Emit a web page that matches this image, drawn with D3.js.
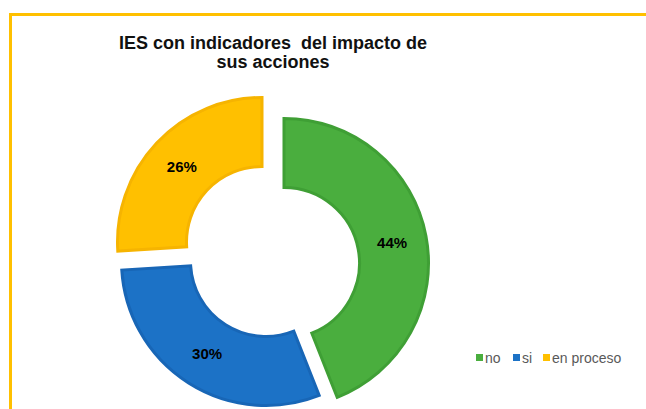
<!DOCTYPE html>
<html>
<head>
<meta charset="utf-8">
<script src="https://cdn.jsdelivr.net/npm/d3@7/dist/d3.min.js"></script>
<style>
  html, body { margin: 0; padding: 0; background: #fff; }
  svg { display: block; font-family: "Liberation Sans", Arial, sans-serif; }
  .title tspan { white-space: pre; }
</style>
</head>
<body>
<svg id="chart" width="646" height="409"></svg>
<script>
const categories = ["no", "si", "en proceso"];
const values = [44, 30, 26];
const labels = ["44%", "30%", "26%"];
const titleLines = ["IES con indicadores  del impacto de", "sus acciones"];

const colors = ["#4aae3e", "#1c72c6", "#ffc000"];
const strokes = ["#3f9f35", "#1866b6", "#f6b400"];
// explode shift of each slice (style)
const shifts = [[0, 0], [-18, -2], [-22, -21]];

const svg = d3.select("#chart");

// frame
svg.append("rect")
  .attr("x", 10.5).attr("y", 14.5)
  .attr("width", 660).attr("height", 420)
  .attr("fill", "none").attr("stroke", "#ffc000").attr("stroke-width", 3);

// title
const title = svg.append("text")
  .attr("class", "title")
  .attr("text-anchor", "middle")
  .attr("font-weight", "bold")
  .attr("font-size", 18)
  .attr("fill", "#111");
titleLines.forEach((t, i) => {
  title.append("tspan").attr("x", 273).attr("y", 49 + i * 19).text(t);
});

const cx = 284, cy = 263;
const outerR = 146, innerR = 74;

const pie = d3.pie().sort(null).value(d => d);
const arcs = pie(values);
const arc = d3.arc().innerRadius(innerR + 1.5).outerRadius(outerR - 1.5);
const labelArc = d3.arc().innerRadius(innerR).outerRadius(outerR);

const g = svg.append("g").attr("transform", `translate(${cx},${cy})`);

const slices = g.selectAll("g.slice").data(arcs).join("g")
  .attr("class", "slice")
  .attr("transform", (d, i) => `translate(${shifts[i][0]},${shifts[i][1]})`);

slices.append("path")
  .attr("d", arc)
  .attr("fill", (d, i) => colors[i])
  .attr("stroke", (d, i) => strokes[i])
  .attr("stroke-width", 3)
  .attr("stroke-linejoin", "miter");

slices.append("text")
  .attr("transform", d => `translate(${labelArc.centroid(d)})`)
  .attr("text-anchor", "middle")
  .attr("dy", "0.35em")
  .attr("font-weight", "bold")
  .attr("font-size", 15)
  .attr("fill", "#000")
  .text((d, i) => labels[i]);

// legend
const legendX = [476, 513, 543];
const legend = svg.append("g");
categories.forEach((c, i) => {
  legend.append("rect")
    .attr("x", legendX[i]).attr("y", 354)
    .attr("width", 7).attr("height", 7)
    .attr("fill", colors[i]);
  legend.append("text")
    .attr("x", legendX[i] + 9).attr("y", 363)
    .attr("font-size", 14)
    .attr("fill", "#595959")
    .text(c);
});
</script>
</body>
</html>
